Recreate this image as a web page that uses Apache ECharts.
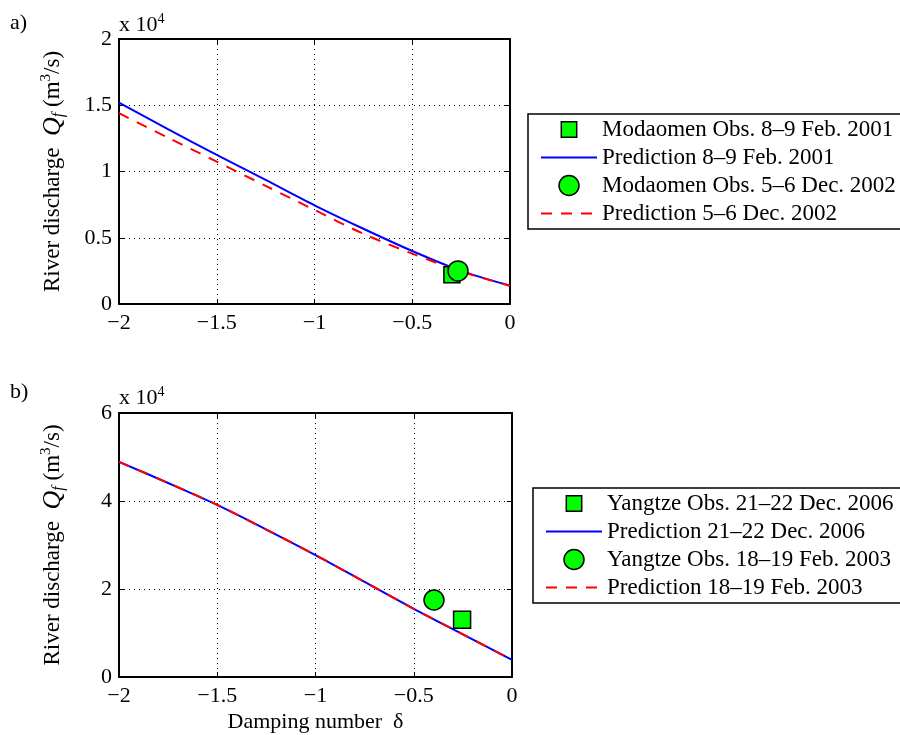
<!DOCTYPE html>
<html>
<head>
<meta charset="utf-8">
<script src="https://cdn.jsdelivr.net/npm/echarts@6/dist/echarts.min.js"></script>
<style>html,body{margin:0;padding:0;background:#fff}#c{width:900px;height:735px}</style>
</head>
<body>
<div id="c"></div>
<script>
// ---------- DATA (discharge in units of 10^4 m^3/s) ----------
var deltaGrid = [-2, -1.75, -1.5, -1.25, -1, -0.75, -0.5, -0.25, 0];

// Panel a) Modaomen
var aPred1 = [1.52, 1.32, 1.125, 0.936, 0.745, 0.568, 0.40, 0.25, 0.138]; // Prediction 8–9 Feb. 2001
var aPred2 = [1.44, 1.256, 1.074, 0.892, 0.71, 0.53, 0.38, 0.245, 0.138]; // Prediction 5–6 Dec. 2002
var aObs1 = [[-0.297, 0.22]];  // Modaomen Obs. 8–9 Feb. 2001
var aObs2 = [[-0.266, 0.25]];  // Modaomen Obs. 5–6 Dec. 2002

// Panel b) Yangtze
var bPred1 = [4.89, 4.41, 3.91, 3.35, 2.77, 2.16, 1.55, 0.97, 0.39]; // Prediction 21–22 Dec. 2006
var bPred2 = [4.89, 4.41, 3.91, 3.35, 2.77, 2.16, 1.55, 0.97, 0.39]; // Prediction 18–19 Feb. 2003
var bObs1 = [[-0.254, 1.30]];  // Yangtze Obs. 21–22 Dec. 2006
var bObs2 = [[-0.397, 1.75]];  // Yangtze Obs. 18–19 Feb. 2003

var namesA = ['Modaomen Obs. 8\u20139 Feb. 2001', 'Prediction 8\u20139 Feb. 2001',
              'Modaomen Obs. 5\u20136 Dec. 2002', 'Prediction 5\u20136 Dec. 2002'];
var namesB = ['Yangtze Obs. 21\u201322 Dec. 2006', 'Prediction 21\u201322 Dec. 2006',
              'Yangtze Obs. 18\u201319 Feb. 2003', 'Prediction 18\u201319 Feb. 2003'];

var xTicks = {min: -2, max: 0, interval: 0.5};
var yTicksA = {min: 0, max: 2, interval: 0.5};
var yTicksB = {min: 0, max: 6, interval: 2};

// ---------- helpers ----------
function pair(xs, ys) { return xs.map(function (x, i) { return [x, ys[i]]; }); }
var FONT = 'Liberation Serif';
var FS = 22;
function fmt(v) { return v < 0 ? '\u2212' + String(-v) : String(v); }

function xAxisPair(grid, showName) {
  return [
    {type: 'value', gridIndex: grid, position: 'bottom', min: xTicks.min, max: xTicks.max, interval: xTicks.interval,
     axisLine: {show: true, onZero: false, lineStyle: {color: '#000', width: 2}},
     axisTick: {show: true, inside: true, length: 5, lineStyle: {color: '#000', width: 1}},
     axisLabel: {color: '#000', fontFamily: FONT, fontSize: FS, margin: 8, formatter: fmt},
     splitLine: {show: true, lineStyle: {color: '#000', width: 1, type: [1, 4]}},
     name: showName ? 'Damping number  \u03b4' : '', nameLocation: 'middle', nameGap: 34,
     nameTextStyle: {color: '#000', fontFamily: FONT, fontSize: FS}},
    {type: 'value', gridIndex: grid, position: 'top', min: xTicks.min, max: xTicks.max, interval: xTicks.interval,
     axisLine: {show: true, onZero: false, lineStyle: {color: '#000', width: 2}},
     axisTick: {show: true, inside: true, length: 5, lineStyle: {color: '#000', width: 1}},
     axisLabel: {show: false}, splitLine: {show: false}}
  ];
}
var titleRich = {
  a: {fontFamily: FONT, fontSize: 23, color: '#000', lineHeight: 28, verticalAlign: 'middle'},
  q: {fontFamily: FONT, fontSize: 26, fontStyle: 'italic', color: '#000', lineHeight: 28, verticalAlign: 'middle'},
  s: {fontFamily: FONT, fontSize: 16, fontStyle: 'italic', color: '#000', lineHeight: 14, verticalAlign: 'bottom'},
  p: {fontFamily: FONT, fontSize: 15, color: '#000', lineHeight: 12, verticalAlign: 'top'}
};
function yAxisPair(grid, t) {
  return [
    {type: 'value', gridIndex: grid, position: 'left', min: t.min, max: t.max, interval: t.interval,
     axisLine: {show: true, onZero: false, lineStyle: {color: '#000', width: 2}},
     axisTick: {show: true, inside: true, length: 5, lineStyle: {color: '#000', width: 1}},
     axisLabel: {color: '#000', fontFamily: FONT, fontSize: FS, margin: 7, formatter: fmt},
     splitLine: {show: true, lineStyle: {color: '#000', width: 1, type: [1, 4]}},
     name: '{a|River discharge  }{q|Q}{s|f}{a| (m}{p|3}{a|/s)}',
     nameLocation: 'middle', nameGap: 52, nameRotate: 90,
     nameTextStyle: {color: '#000', fontFamily: FONT, fontSize: 23, rich: titleRich}},
    {type: 'value', gridIndex: grid, position: 'right', min: t.min, max: t.max, interval: t.interval,
     axisLine: {show: true, onZero: false, lineStyle: {color: '#000', width: 2}},
     axisTick: {show: true, inside: true, length: 5, lineStyle: {color: '#000', width: 1}},
     axisLabel: {show: false}, splitLine: {show: false}}
  ];
}

function obsSeries(name, xi, yi, data, sym, size) {
  return {name: name, type: 'scatter', xAxisIndex: xi, yAxisIndex: yi, data: data,
          symbol: sym, symbolSize: size,
          itemStyle: {color: '#00ff00', borderColor: '#000', borderWidth: 1.5, opacity: 1},
          emphasis: {disabled: true}, z: 3};
}
function predSeries(name, xi, yi, data, color, dashed) {
  return {name: name, type: 'line', xAxisIndex: xi, yAxisIndex: yi, data: data,
          showSymbol: false, symbol: 'none', smooth: 0.3,
          itemStyle: {color: color},
          lineStyle: {color: color, width: 2, type: dashed ? [11, 9] : 'solid'},
          emphasis: {disabled: true}, z: 3};
}

var squareIcon = 'path://M-1.5,-1.5L-1.5,-1.5M11.5,11.5L11.5,11.5M0,0H10V10H0Z';
function legendFor(names, left, top) {
  return {
    left: left, top: top, orient: 'vertical', itemWidth: 56, itemHeight: 20, itemGap: 5,
    padding: [4, 30, 4, 12], borderColor: '#000', borderWidth: 1.5, backgroundColor: '#fff',
    selectedMode: false, symbolKeepAspect: true,
    textStyle: {color: '#000', fontFamily: FONT, fontSize: 23},
    data: [
      {name: names[0], icon: squareIcon, symbolKeepAspect: true,
       itemStyle: {color: '#00ff00', borderColor: '#000', borderWidth: 1.5}},
      {name: names[1], itemStyle: {opacity: 0}},
      {name: names[2], icon: 'circle', itemStyle: {color: '#00ff00', borderColor: '#000', borderWidth: 1.5}},
      {name: names[3], itemStyle: {opacity: 0}}
    ]
  };
}

var xA = xAxisPair(0, false), xB = xAxisPair(1, true);
var yA = yAxisPair(0, yTicksA), yB = yAxisPair(1, yTicksB);

var expRich = {
  a: {fontFamily: FONT, fontSize: FS, fill: '#000', lineHeight: 26, verticalAlign: 'middle'},
  p: {fontFamily: FONT, fontSize: 14, fill: '#000', lineHeight: 10, verticalAlign: 'top'}
};

var option = {
  backgroundColor: '#fff',
  animation: false,
  textStyle: {fontFamily: FONT},
  grid: [
    {left: 119, top: 39, width: 391, height: 265, show: true, backgroundColor: '#fff', borderWidth: 0},
    {left: 119, top: 413, width: 393, height: 264, show: true, backgroundColor: '#fff', borderWidth: 0}
  ],
  xAxis: [xA[0], xA[1], xB[0], xB[1]],
  yAxis: [yA[0], yA[1], yB[0], yB[1]],
  legend: [legendFor(namesA, 528, 114), legendFor(namesB, 533, 488)],
  series: [
    obsSeries(namesA[0], 0, 0, aObs1, 'rect', 16),
    predSeries(namesA[1], 0, 0, pair(deltaGrid, aPred1), '#0000ff', false),
    obsSeries(namesA[2], 0, 0, aObs2, 'circle', 20),
    predSeries(namesA[3], 0, 0, pair(deltaGrid, aPred2), '#ff0000', true),
    obsSeries(namesB[0], 2, 2, bObs1, 'rect', 17),
    predSeries(namesB[1], 2, 2, pair(deltaGrid, bPred1), '#0000ff', false),
    obsSeries(namesB[2], 2, 2, bObs2, 'circle', 20),
    predSeries(namesB[3], 2, 2, pair(deltaGrid, bPred2), '#ff0000', true)
  ],
  graphic: [
    {type: 'text', left: 10, top: 12, style: {text: 'a)', fontFamily: FONT, fontSize: FS, fill: '#000'}},
    {type: 'text', left: 10, top: 381, style: {text: 'b)', fontFamily: FONT, fontSize: FS, fill: '#000'}},
    {type: 'text', left: 119, top: 12, style: {text: '{a|x 10}{p|4}', fill: '#000', rich: expRich}},
    {type: 'text', left: 119, top: 385, style: {text: '{a|x 10}{p|4}', fill: '#000', rich: expRich}}
  ]
};

var chart = echarts.init(document.getElementById('c'), null, {renderer: 'canvas'});
chart.setOption(option);
</script>
</body>
</html>
